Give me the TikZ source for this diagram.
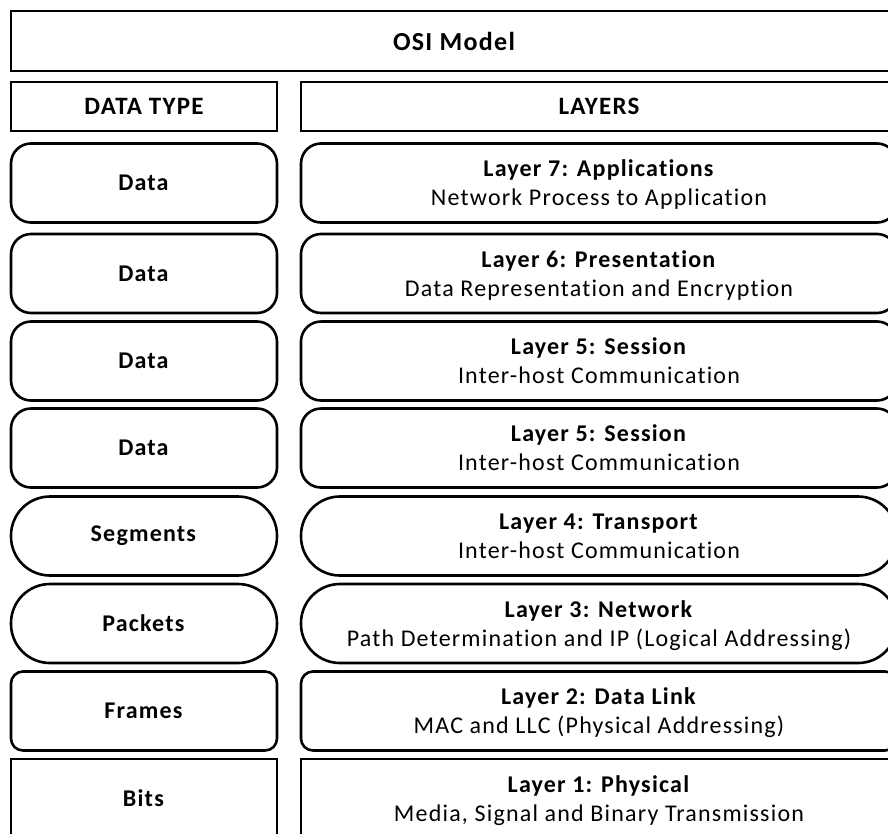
\documentclass[tikz,border=0pt]{standalone}
\usepackage{fontspec}
\setmainfont{Carlito}[LetterSpace=5, Ligatures=NoCommon]
\newcommand\osiTwo[2]{\rule{0pt}{22.4pt}\textbf{#1}\\#2\rule[-6pt]{0pt}{6pt}}
\begin{document}
\begin{tikzpicture}[x=1pt,y=-1pt,
  box/.style={draw=black, line width=2.6pt, fill=white, inner sep=0pt, align=center,
    font=\fontsize{24}{29}\selectfont},
  lcol/.style={box, minimum width=266pt, minimum height=79pt},
  rcol/.style={box, minimum width=596pt, minimum height=79pt},
  rdata/.style={rounded corners=20pt},
  rseg/.style={rounded corners=39pt},
  rframe/.style={rounded corners=12pt}]
\useasboundingbox (0,0) rectangle (888,833);
\clip (0,0) rectangle (888,833);
% title
\node[box, minimum width=886pt, minimum height=60pt, font=\fontsize{26}{30}\selectfont\bfseries] (title) at (454,41) {OSI Model};
% headers
\node[box, minimum width=266pt, minimum height=49pt, font=\fontsize{25}{29}\selectfont\bfseries] (hdt) at (144,106.5) {DATA TYPE};
\node[box, minimum width=596pt, minimum height=49pt, font=\fontsize{25}{29}\selectfont\bfseries] (hly) at (599,106.5) {LAYERS};
% rows
\node[lcol, rdata] (d1) at (144,183) {\textbf{Data}};
\node[rcol, rdata] (l7) at (599,183) {\osiTwo{Layer 7: Applications}{Network Process to Application}};
\node[lcol, rdata] (d2) at (144,273.5) {\textbf{Data}};
\node[rcol, rdata] (l6) at (599,273.5) {\osiTwo{Layer 6: Presentation}{Data Representation and Encryption}};
\node[lcol, rdata] (d3) at (144,361) {\textbf{Data}};
\node[rcol, rdata] (l5a) at (599,361) {\osiTwo{Layer 5: Session}{Inter-host Communication}};
\node[lcol, rdata] (d4) at (144,448) {\textbf{Data}};
\node[rcol, rdata] (l5b) at (599,448) {\osiTwo{Layer 5: Session}{Inter-host Communication}};
\node[lcol, rseg] (seg) at (144,536) {\textbf{Segments}};
\node[rcol, rseg] (l4) at (599,536) {\osiTwo{Layer 4: Transport}{Inter-host Communication}};
\node[lcol, rseg] (pkt) at (144,623.5) {\textbf{Packets}};
\node[rcol, rseg] (l3) at (599,623.5) {\osiTwo{Layer 3: Network}{Path Determination and IP (Logical Addressing)}};
\node[lcol, rframe] (frm) at (144,711) {\textbf{Frames}};
\node[rcol, rframe] (l2) at (599,711) {\osiTwo{Layer 2: Data Link}{MAC and LLC (Physical Addressing)}};
\node[lcol] (bits) at (144,798.5) {\textbf{Bits}};
\node[rcol] (l1) at (599,798.5) {\osiTwo{Layer 1: Physical}{Media, Signal and Binary Transmission}};
\end{tikzpicture}
\end{document}
